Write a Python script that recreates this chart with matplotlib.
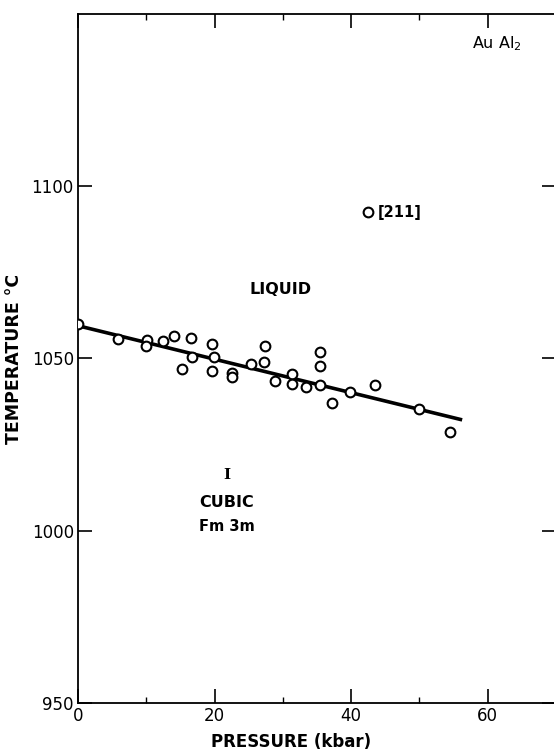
import matplotlib.pyplot as plt
from matplotlib.ticker import MultipleLocator

# Pressure (kbar) and melting temperature (C)
pressure = [0.0, 5.8, 10.1, 9.9, 12.4, 14.1, 16.6, 19.6, 27.4, 15.2, 16.7, 19.6,
            19.9, 22.6, 22.6, 25.3, 27.3, 28.9, 31.3, 31.3, 33.4, 35.5, 35.5,
            35.5, 37.2, 39.9, 43.5, 50.0, 54.5]
temperature = [1059.9, 1055.7, 1055.3, 1053.6, 1055.1, 1056.5, 1055.8, 1054.2,
               1053.6, 1046.8, 1050.4, 1046.3, 1050.3, 1045.9, 1044.6, 1048.5,
               1048.9, 1043.4, 1045.5, 1042.7, 1041.8, 1051.9, 1047.8, 1042.3,
               1037.1, 1040.3, 1042.2, 1035.3, 1028.7]
outlier_p, outlier_t = [42.5], [1092.4]

# fitted melting curve end points
fit_p = [0.0, 56.0]
fit_t = [1059.5, 1032.3]

fig = plt.figure(figsize=(5.54, 7.50), dpi=100)
ax = fig.add_axes([0.1408, 0.0627, 0.8628, 0.9187])

ax.plot(fit_p, fit_t, color='black', linewidth=2.6, zorder=2)
ax.plot(pressure, temperature, 'o', mfc='white', mec='black', ms=7, mew=1.5, zorder=3)
ax.plot(outlier_p, outlier_t, 'o', mfc='white', mec='black', ms=7, mew=1.5, zorder=3)

ax.set_xlim(0, 70)
ax.set_ylim(950, 1150)
ax.xaxis.set_major_locator(MultipleLocator(20))
ax.xaxis.set_minor_locator(MultipleLocator(10))
ax.set_yticks([950, 1000, 1050, 1100])
ax.tick_params(which='major', direction='in', length=10, width=1.2,
               top=True, right=True, labelsize=12, pad=3)
ax.tick_params(which='minor', direction='in', length=4, width=1.0, top=True)
for s in ax.spines.values():
    s.set_linewidth(1.3)

txt = dict(fontweight='bold', fontsize=11.5, ha='center', va='center')
ax.text(29.6, 1070, 'LIQUID', **txt)
ax.text(21.8, 1016.3, 'I', fontfamily='DejaVu Serif', fontweight='bold', fontsize=11, ha='center', va='center')
ax.text(21.8, 1008.1, 'CUBIC', **txt)
ax.text(21.8, 1001.2, 'Fm 3m', fontweight='bold', fontsize=10.5, ha='center', va='center')
ax.text(43.9, 1092.4, '[211]', fontweight='bold', fontsize=10.5, ha='left', va='center')
ax.text(61.3, 1141.5, r'Au Al$_2$', fontsize=11.5, ha='center', va='center')

ax.set_xlabel('PRESSURE (kbar)', fontweight='bold', fontsize=12)
ax.xaxis.set_label_coords(0.445, -0.043)
ax.set_ylabel('TEMPERATURE °C', fontweight='bold', fontsize=12.5, labelpad=6)

fig.savefig('out.png', dpi=100)
